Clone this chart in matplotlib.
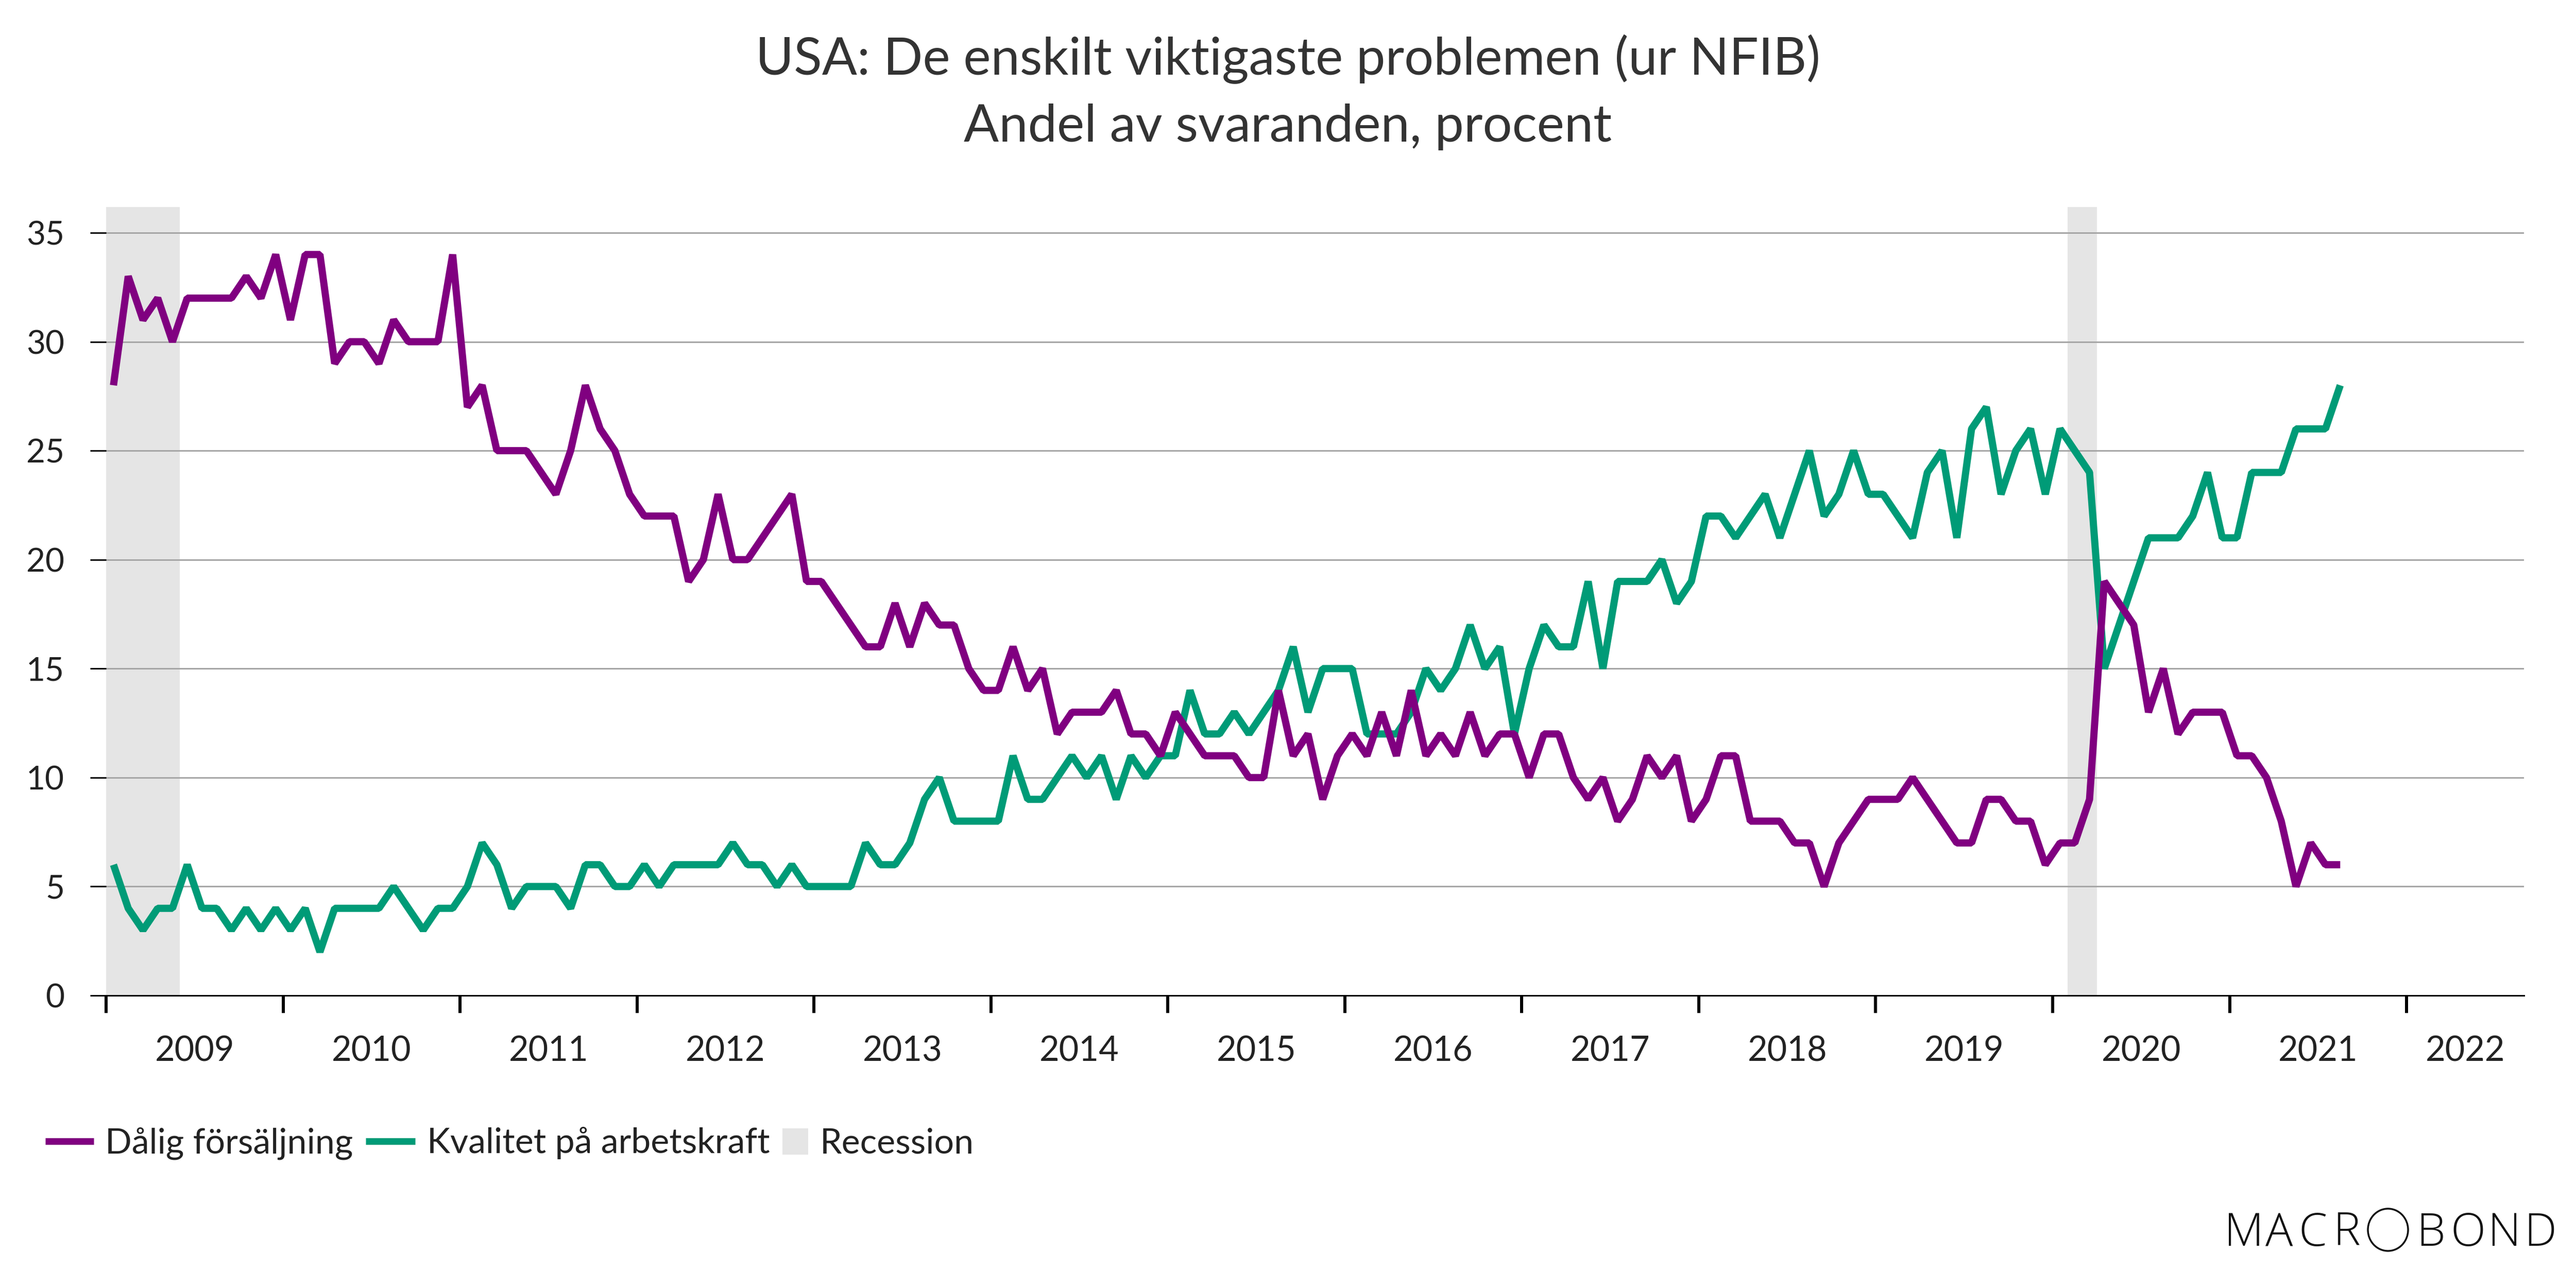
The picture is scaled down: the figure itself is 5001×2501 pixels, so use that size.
import matplotlib
matplotlib.use("Agg")
import matplotlib.pyplot as plt
from matplotlib.lines import Line2D
from matplotlib.patches import Rectangle, Ellipse

plt.rcParams['font.family'] = ['Lato', 'DejaVu Sans']

# manader fran jan 2009 till aug 2021
dalig = [28, 33, 31, 32, 30, 32, 32, 32, 32, 33, 32, 34,
         31, 34, 34, 29, 30, 30, 29, 31, 30, 30, 30, 34,
         27, 28, 25, 25, 25, 24, 23, 25, 28, 26, 25, 23,
         22, 22, 22, 19, 20, 23, 20, 20, 21, 22, 23, 19,
         19, 18, 17, 16, 16, 18, 16, 18, 17, 17, 15, 14,
         14, 16, 14, 15, 12, 13, 13, 13, 14, 12, 12, 11,
         13, 12, 11, 11, 11, 10, 10, 14, 11, 12, 9, 11,
         12, 11, 13, 11, 14, 11, 12, 11, 13, 11, 12, 12,
         10, 12, 12, 10, 9, 10, 8, 9, 11, 10, 11, 8,
         9, 11, 11, 8, 8, 8, 7, 7, 5, 7, 8, 9,
         9, 9, 10, 9, 8, 7, 7, 9, 9, 8, 8, 6,
         7, 7, 9, 19, 18, 17, 13, 15, 12, 13, 13, 13,
         11, 11, 10, 8, 5, 7, 6, 6]
kvalitet = [6, 4, 3, 4, 4, 6, 4, 4, 3, 4, 3, 4,
            3, 4, 2, 4, 4, 4, 4, 5, 4, 3, 4, 4,
            5, 7, 6, 4, 5, 5, 5, 4, 6, 6, 5, 5,
            6, 5, 6, 6, 6, 6, 7, 6, 6, 5, 6, 5,
            5, 5, 5, 7, 6, 6, 7, 9, 10, 8, 8, 8,
            8, 11, 9, 9, 10, 11, 10, 11, 9, 11, 10, 11,
            11, 14, 12, 12, 13, 12, 13, 14, 16, 13, 15, 15,
            15, 12, 12, 12, 13, 15, 14, 15, 17, 15, 16, 12,
            15, 17, 16, 16, 19, 15, 19, 19, 19, 20, 18, 19,
            22, 22, 21, 22, 23, 21, 23, 25, 22, 23, 25, 23,
            23, 22, 21, 24, 25, 21, 26, 27, 23, 25, 26, 23,
            26, 25, 24, 15, 17, 19, 21, 21, 21, 22, 24, 21,
            21, 24, 24, 24, 26, 26, 26, 28]
ar = ['2009', '2010', '2011', '2012', '2013', '2014', '2015',
      '2016', '2017', '2018', '2019', '2020', '2021', '2022']
y_ticks = [0, 5, 10, 15, 20, 25, 30, 35]
recessioner = [(0, 5), (133, 135)]

LILA = '#800080'
GRON = '#009b77'
GRA = '#e5e5e5'
TEXT = '#222222'
W, H = 5001, 2501
PX = 72 / 100  # punkter per pixel vid dpi 100
LW = 14 * PX

fig = plt.figure(figsize=(W / 100, H / 100), dpi=100)
ax = fig.add_axes([206 / W, 1 - 1933 / H, (4900 - 206) / W, (1933 - 402) / H])

x = [i + 0.5 for i in range(len(dalig))]
for start, slut in recessioner:
    ax.axvspan(start, slut, color=GRA, lw=0, zorder=0)
ax.plot(x, kvalitet, color=GRON, lw=LW, solid_joinstyle='bevel', solid_capstyle='butt', zorder=3)
ax.plot(x, dalig, color=LILA, lw=LW, solid_joinstyle='bevel', solid_capstyle='butt', zorder=4)

ax.set_xlim(0, 163.96)
ax.set_ylim(0, 36.18)
ax.set_yticks(y_ticks)
ax.grid(axis='y', color='#a6a6a6', lw=3 * PX, zorder=1)
ax.set_axisbelow(True)
ax.tick_params(axis='y', length=31 * PX, width=3 * PX, pad=36, labelsize=46, labelcolor=TEXT)

# arstal mitt emellan tickarna
major = [12 * i for i in range(len(ar))]
minor = [m + 6 for m in major[:-1]] + [(major[-1] + 163.96) / 2]
ax.set_xticks(major)
ax.set_xticklabels([])
ax.set_xticks(minor, minor=True)
ax.set_xticklabels(ar, minor=True)
ax.tick_params(axis='x', which='major', length=34 * PX, width=6 * PX)
ax.tick_params(axis='x', which='minor', length=0, pad=56, labelsize=48, labelcolor=TEXT)

for s in ['top', 'left', 'right']:
    ax.spines[s].set_visible(False)
ax.spines['bottom'].set_linewidth(3 * PX)

fig.text(0.5, 1 - 115 / H, 'USA: De enskilt viktigaste problemen (ur NFIB)', ha='center', va='center',
         fontsize=72.5, color='#333333')
fig.text(0.5, 1 - 246 / H, 'Andel av svaranden, procent', ha='center', va='center',
         fontsize=72.5, color='#333333')

# legenden, placerad for hand
LEG_Y = 1 - 2216 / H
TEXT_Y = 1 - 2239 / H
for x0, x1, farg in [(88, 182, LILA), (710, 806, GRON)]:
    fig.add_artist(Line2D([x0 / W, x1 / W], [LEG_Y, LEG_Y], color=farg, lw=13 * PX,
                          solid_capstyle='butt', transform=fig.transFigure))
fig.add_artist(Rectangle((1519 / W, 1 - 2242 / H), 50 / W, 51 / H, color=GRA, lw=0, transform=fig.transFigure))
for tx, namn in [(204, 'Dålig försäljning'), (829, 'Kvalitet på arbetskraft'), (1592, 'Recession')]:
    fig.text(tx / W, TEXT_Y, namn, ha='left', va='baseline', fontsize=49, color=TEXT)

# loggan
bokstaver = ['M', 'A', 'C', 'R', 'B', 'O', 'N', 'D']
bokstav_x = [4318, 4398, 4462, 4530, 4692, 4757, 4830, 4901]
for b, bx in zip(bokstaver, bokstav_x):
    fig.text(bx / W, 1 - 2419 / H, b, ha='left', va='baseline', fontsize=64, family='Open Sans',
             fontweight='light', color='#111111')
fig.add_artist(Ellipse((4636 / W, 1 - 2388 / H), 78 / W, 82 / H, transform=fig.transFigure,
                       fill=False, ec='#111111', lw=3.5 * PX))

fig.savefig('out.png', dpi=100)
